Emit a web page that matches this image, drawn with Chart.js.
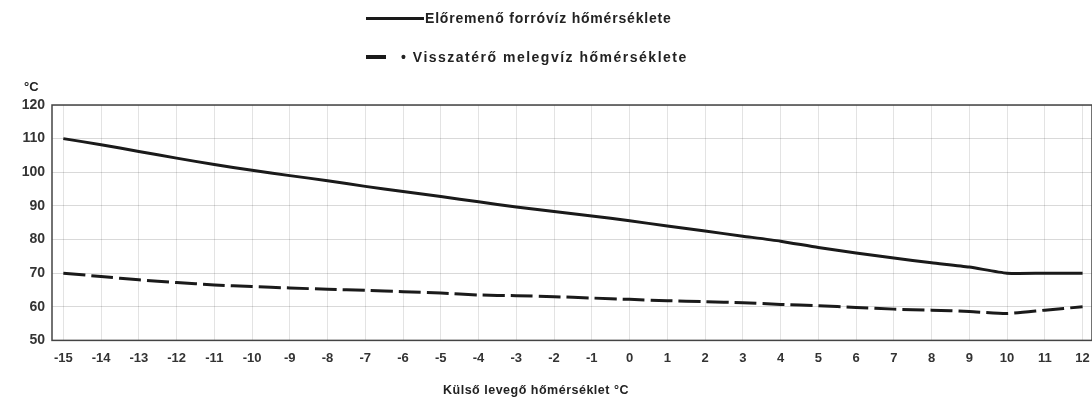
<!DOCTYPE html>
<html>
<head>
<meta charset="utf-8">
<script src="https://cdn.jsdelivr.net/npm/chart.js@4"></script>
<style>
  html, body { margin: 0; padding: 0; background: #fff; }
  #wrap { position: relative; width: 1092px; height: 408px; font-family: 'Liberation Sans', Arial, sans-serif; color: #222; }
  #chart { position: absolute; left: 0; top: 0; }
  .legend-row { position: absolute; display: flex; align-items: center; font-size: 14px; font-weight: bold; white-space: nowrap; }
  .swatch { height: 0; border-top: 3px solid #1a1a1a; }
  .unit { position: absolute; left: 24px; top: 79px; font-size: 13px; font-weight: bold; }
  .xtitle { position: absolute; left: 0; width: 1072px; top: 383px; text-align: center; font-size: 12.5px; font-weight: bold; letter-spacing: 0.5px; }
</style>
</head>
<body>
<div id="wrap">
  <canvas id="chart" width="1092" height="408"></canvas>
  <div class="legend-row" style="left:366px; top:10px; letter-spacing:0.8px;">
    <span class="swatch" style="width:58px;"></span>
    <span style="margin-left:1px;">Előremenő forróvíz hőmérséklete</span>
  </div>
  <div class="legend-row" style="left:366px; top:49px; letter-spacing:1.5px;">
    <span class="swatch" style="width:20px; border-top-width:4px;"></span>
    <span style="margin-left:15px;">• Visszatérő melegvíz hőmérséklete</span>
  </div>
  <div class="unit">°C</div>
  <div class="xtitle">Külső levegő hőmérséklet °C</div>
</div>
<script>
// outdoor temperature (x axis)
const outdoorTemps = [-15, -14, -13, -12, -11, -10, -9, -8, -7, -6, -5, -4, -3, -2, -1, 0, 1, 2, 3, 4, 5, 6, 7, 8, 9, 10, 11, 12];
// supply hot water temperature (solid line)
const supplyTemps = [110, 108.2, 106.2, 104.2, 102.3, 100.6, 99, 97.5, 95.8, 94.3, 92.8, 91.2, 89.7, 88.3, 87, 85.6, 84, 82.5, 81, 79.5, 77.6, 76, 74.5, 73.1, 71.8, 70, 70, 70];
// return warm water temperature (dashed line)
const returnTemps = [70, 69, 68, 67.2, 66.5, 66, 65.6, 65.2, 64.9, 64.5, 64.1, 63.5, 63.3, 63, 62.6, 62.2, 61.8, 61.5, 61.2, 60.7, 60.3, 59.8, 59.3, 59, 58.6, 58, 59, 60];
const yTicks = [50, 60, 70, 80, 90, 100, 110, 120];

const toPoints = (vals) => outdoorTemps.map((x, i) => ({ x: x, y: vals[i] }));

// draws the frame around the plot area
const frame = {
    id: 'frame',
    afterDraw(chart) {
        const a = chart.chartArea;
        const c = chart.ctx;
        c.save();
        c.strokeStyle = '#444';
        c.lineWidth = 1.5;
        c.strokeRect(a.left, a.top, a.right - a.left, a.bottom - a.top);
        c.restore();
    }
};

const tickFont = { family: "'Liberation Sans', Arial, sans-serif", size: 13, weight: 'bold' };

new Chart(document.getElementById('chart'), {
    type: 'line',
    data: {
        datasets: [{
            label: 'Előremenő forróvíz hőmérséklete',
            data: toPoints(supplyTemps),
            borderColor: '#1a1a1a',
            borderWidth: 3,
            pointRadius: 0,
            tension: 0.2
        }, {
            label: 'Visszatérő melegvíz hőmérséklete',
            data: toPoints(returnTemps),
            borderColor: '#1a1a1a',
            borderWidth: 3,
            borderDash: [22, 6],
            pointRadius: 0,
            tension: 0.2
        }]
    },
    options: {
        responsive: false,
        animation: false,
        layout: { padding: { top: 105, bottom: 32, right: 0, left: 0 } },
        plugins: { legend: { display: false }, tooltip: { enabled: false } },
        scales: {
            x: {
                type: 'linear',
                min: -15.3,
                max: 12.25,
                afterFit(scale) { scale.paddingRight = 0; scale.paddingLeft = 0; },
                border: { display: false },
                grid: { color: 'rgba(0,0,0,0.11)', drawTicks: false },
                ticks: {
                    stepSize: 1,
                    includeBounds: false,
                    autoSkip: false,
                    maxRotation: 0,
                    padding: 10,
                    color: '#333',
                    font: tickFont
                }
            },
            y: {
                min: 50,
                max: 120,
                afterFit(scale) { scale.width = 52; },
                afterBuildTicks(scale) { scale.ticks = yTicks.map(v => ({ value: v })); },
                border: { display: false },
                grid: { color: 'rgba(0,0,0,0.15)', drawTicks: false },
                ticks: { padding: 7, color: '#333', font: { family: tickFont.family, size: 14, weight: 'bold' } }
            }
        }
    },
    plugins: [frame]
});
</script>
</body>
</html>
